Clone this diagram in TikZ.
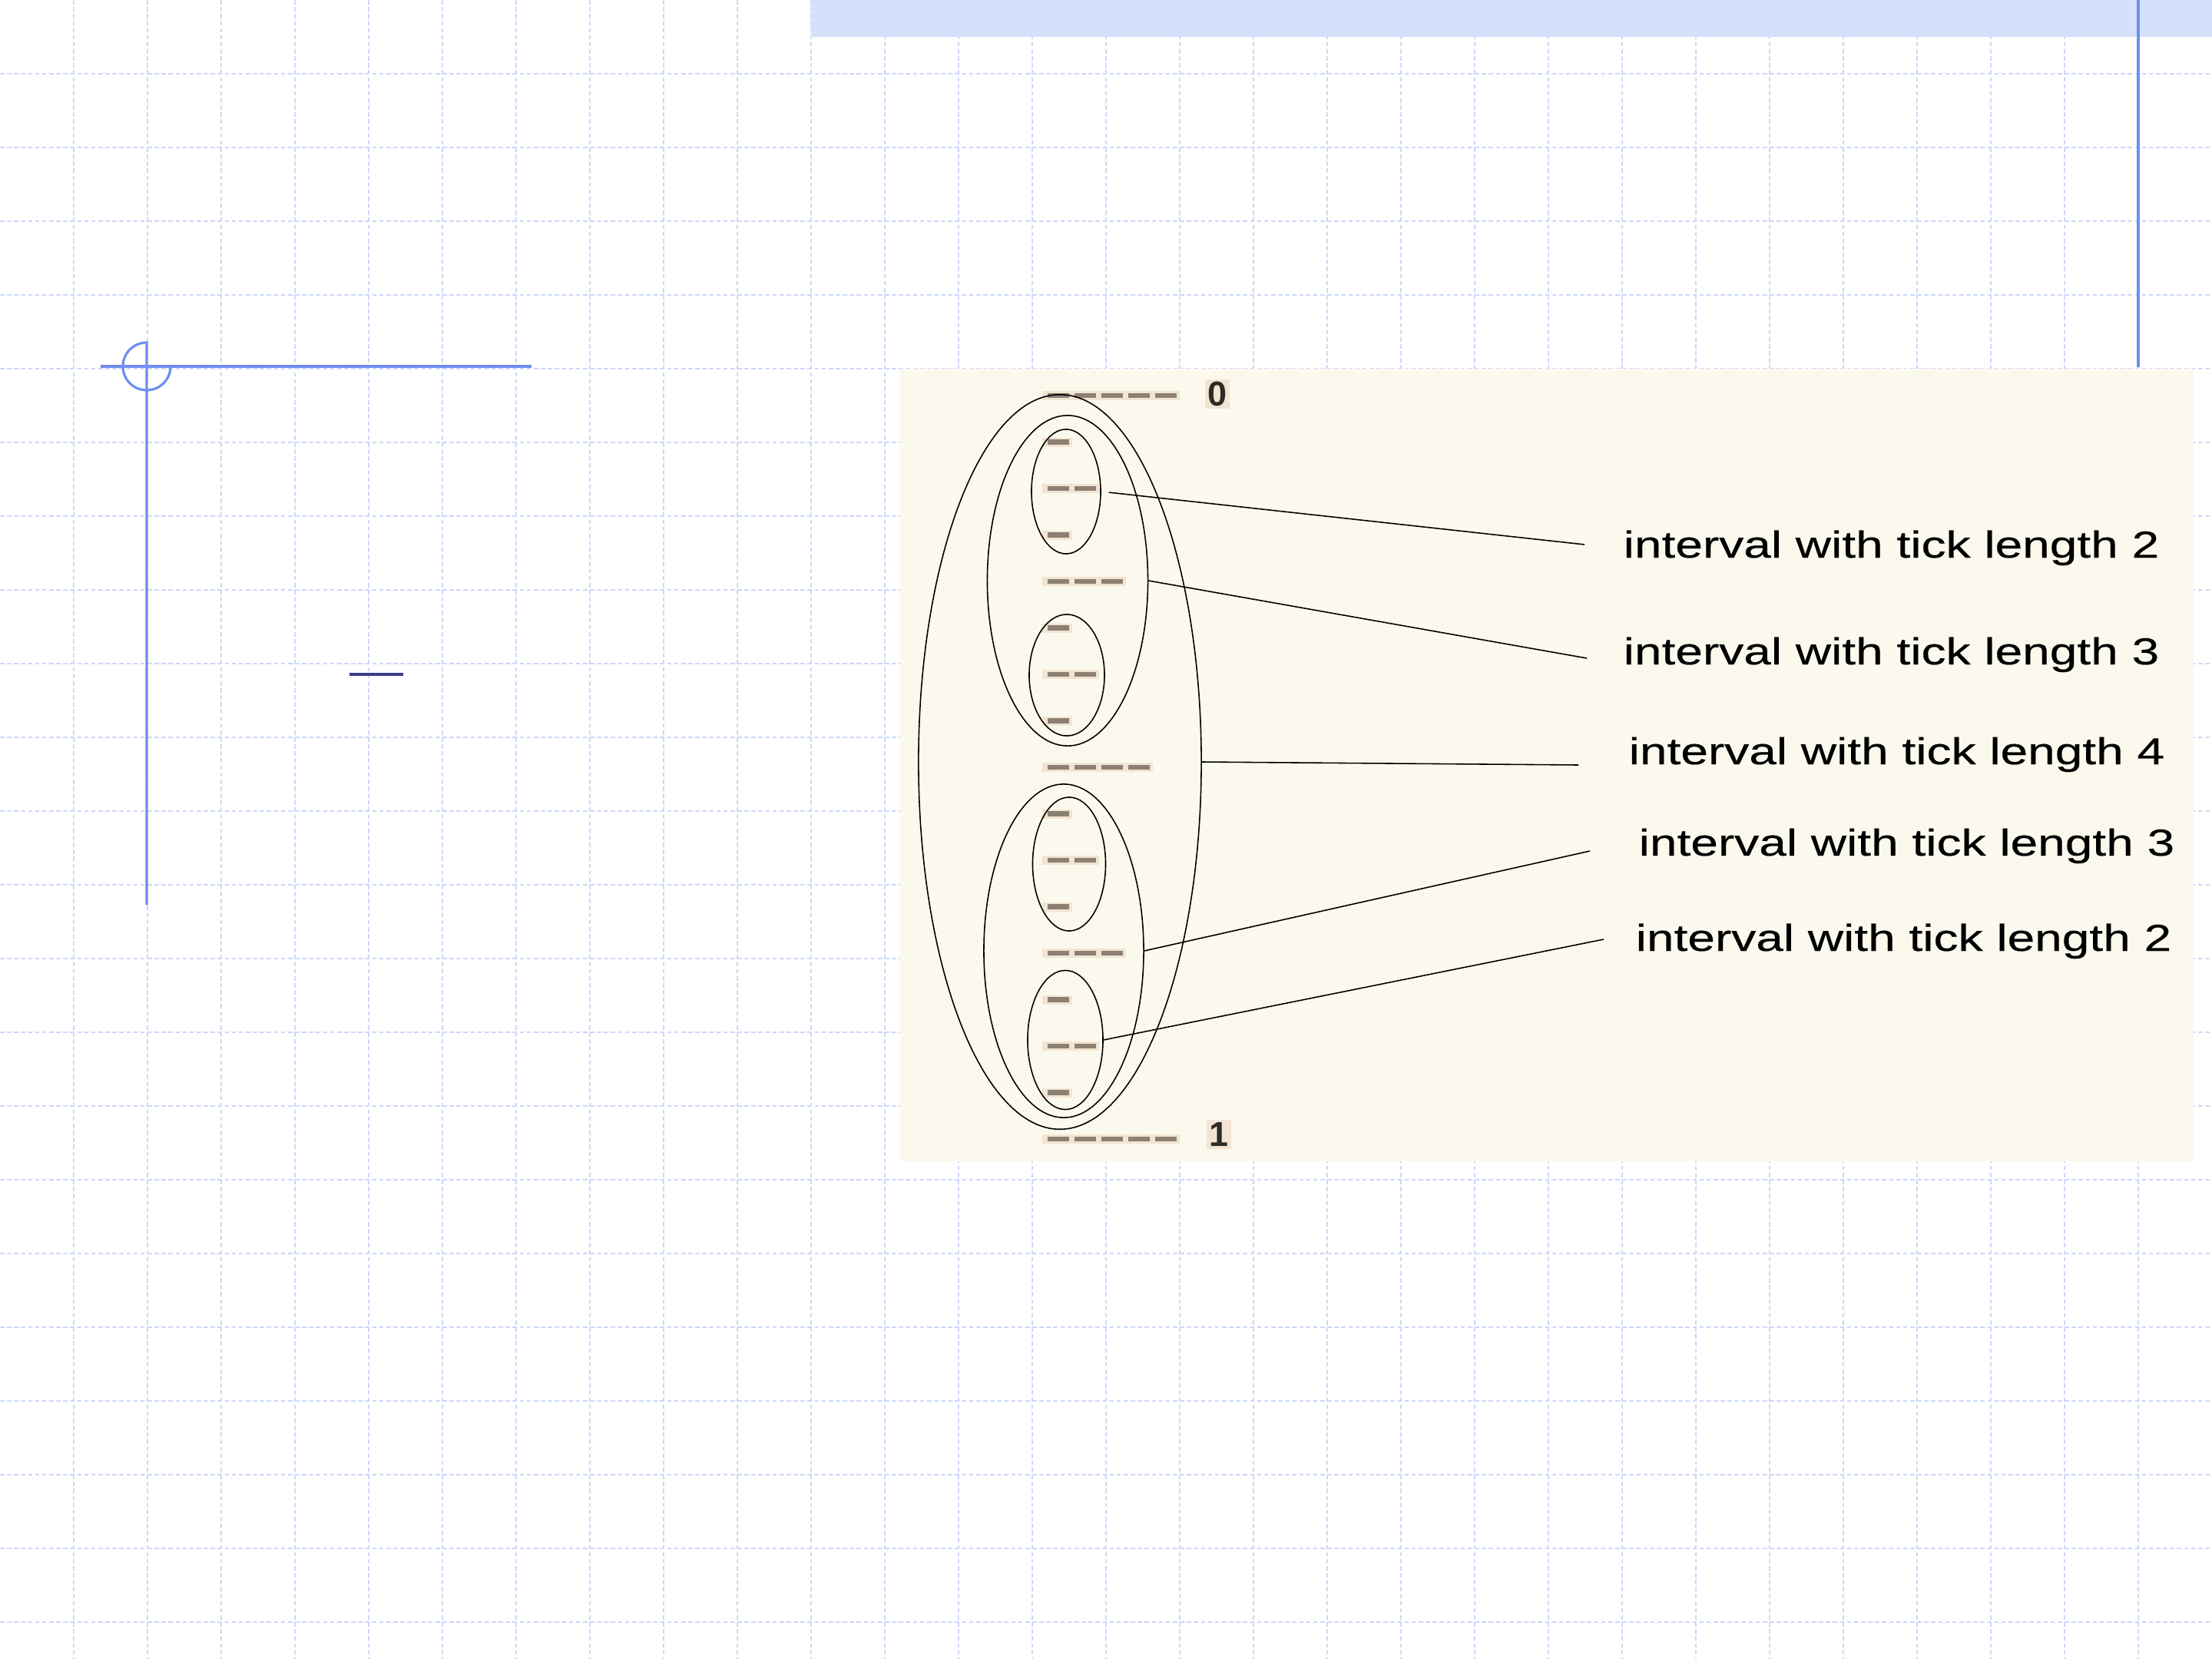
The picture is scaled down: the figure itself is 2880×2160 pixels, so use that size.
\documentclass[tikz,border=0pt]{standalone}
\usepackage{fontspec}
\setmainfont{Liberation Sans}
\newfontfamily\labelfont[FakeStretch=1.31,FakeBold=0.4]{Liberation Sans}
\usetikzlibrary{shapes.geometric}

\definecolor{gridblue}{RGB}{204,215,250}
\definecolor{bannerblue}{RGB}{214,224,250}
\definecolor{markblue}{RGB}{112,142,240}
\definecolor{darknavy}{RGB}{60,60,140}
\definecolor{panelcream}{RGB}{251,249,237}
\definecolor{tickcore}{RGB}{140,128,114}
\definecolor{tickglow}{RGB}{242,228,210}
\definecolor{digitgray}{RGB}{45,42,40}

\tikzset{
  gridline/.style={gridblue, line width=0.55pt, dash pattern=on 1.6pt off 1pt},
  markline/.style={markblue, line width=0.9pt},
  ring/.style={ellipse, draw, line width=0.45pt, inner sep=0pt},
  leader/.style={line width=0.45pt},
  tickdash/.style={tickcore, line width=1.8pt},
  intlabel/.style={anchor=base west, inner sep=0pt,
    font=\labelfont\fontsize{13.9pt}{16pt}\selectfont},
  endlabel/.style={fill=tickglow, inner sep=1pt, text=digitgray,
    font=\bfseries\fontsize{12.8pt}{14pt}\selectfont}
}

\begin{document}
\begin{tikzpicture}[x=0.01cm, y=-0.01cm]
    \useasboundingbox (0,0) rectangle (2880,2160);
    \fill[white] (0,0) rectangle (2880,2160);

    % Grid paper
    \foreach \gx in {96,192,...,2784}
        \draw[gridline] (\gx,0) -- (\gx,2160);
    \foreach \gy in {96,192,...,2112}
        \draw[gridline] (0,\gy) -- (2880,\gy);

    % Banner and corner marks
    \fill[bannerblue] (1056,0) rectangle (2880,48);
    \draw[markline] (2784,0) -- (2784,478);
    \draw[markline] (131,477) -- (692,477);
    \draw[markline] (191,1178) -- (191,446) arc (90:360:0.31cm);
    \draw[darknavy, line width=1pt] (455,878) -- (525,878);

    % Picture panel
    \fill[panelcream] (1172,480) rectangle (2856,1512);

    % Ruler ticks
    \foreach \i/\n in {0/5,1/1,2/2,3/1,4/3,5/1,6/2,7/1,8/4,9/1,10/2,11/1,12/3,13/1,14/2,15/1,16/5}{
        \pgfmathsetmacro\ty{515+60.5*\i}
        \fill[tickglow] (1357,\ty-6) rectangle ({1364+35*\n-3},\ty+6);
        \foreach \k in {1,...,\n}
            \draw[tickdash] ({1364+35*(\k-1)},\ty) -- ++(28,0);
    }

    % Nested interval ellipses
    \node[ring, minimum width=3.68cm, minimum height=9.56cm] (outer) at (1380,992) {};
    \node[ring, minimum width=2.09cm, minimum height=4.30cm] (upmid) at (1390,756) {};
    \node[ring, minimum width=2.08cm, minimum height=4.34cm] (lowmid) at (1385,1238) {};
    \node[ring, minimum width=0.90cm, minimum height=1.62cm] (upA) at (1388,640) {};
    \node[ring, minimum width=0.98cm, minimum height=1.58cm] (upB) at (1389,879) {};
    \node[ring, minimum width=0.95cm, minimum height=1.74cm] (lowA) at (1392,1125) {};
    \node[ring, minimum width=0.98cm, minimum height=1.81cm] (lowB) at (1387,1354) {};

    % End values
    \node[endlabel] (zero) at (1585,513) {0};
    \node[endlabel] (one) at (1587,1477) {1};

    % Interval labels
    \node[intlabel] (lab1) at (2113,726) {interval with tick length 2};
    \node[intlabel] (lab2) at (2113,865) {interval with tick length 3};
    \node[intlabel] (lab3) at (2120,995) {interval with tick length 4};
    \node[intlabel] (lab4) at (2133,1114) {interval with tick length 3};
    \node[intlabel] (lab5) at (2129,1238) {interval with tick length 2};

    % Leader lines
    \coordinate (end1) at (2063,709);
    \coordinate (end2) at (2066,857);
    \coordinate (end3) at (2055,996);
    \coordinate (end4) at (2070,1108);
    \coordinate (end5) at (2088,1223);
    \draw[leader, shorten <=0.1cm] (upA.east) -- (end1);
    \draw[leader] (upmid.east) -- (end2);
    \draw[leader] (outer.east) -- (end3);
    \draw[leader] (lowmid.east) -- (end4);
    \draw[leader] (lowB.east) -- (end5);
\end{tikzpicture}
\end{document}
